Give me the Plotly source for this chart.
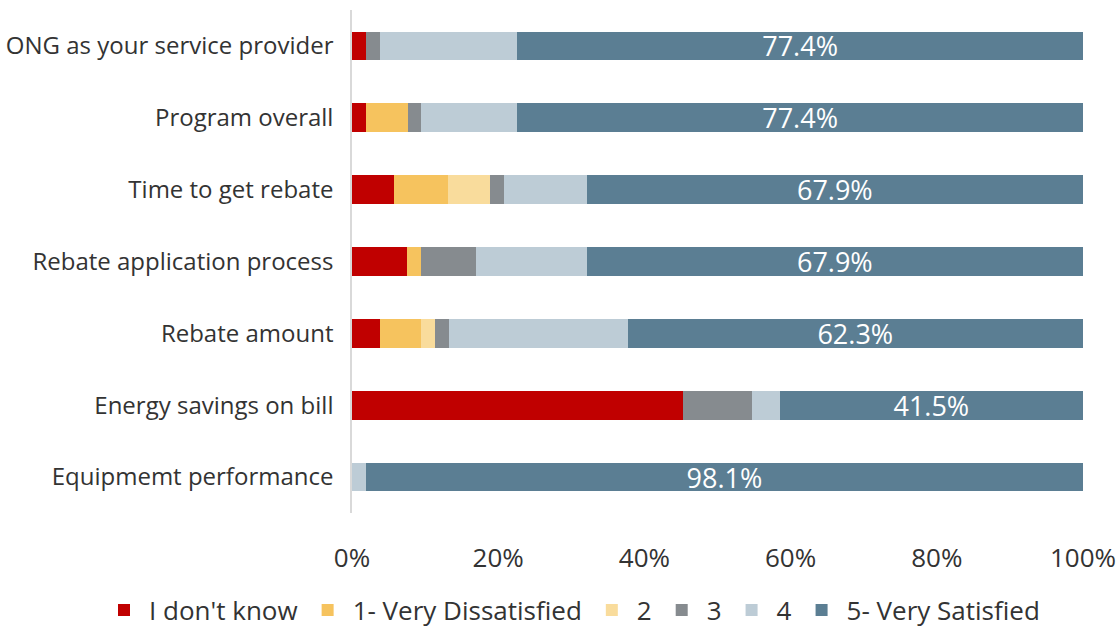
import plotly.graph_objects as go

# Survey items, listed top to bottom
categories = [
    "ONG as your service provider",
    "Program overall",
    "Time to get rebate",
    "Rebate application process",
    "Rebate amount",
    "Energy savings on bill",
    "Equipmemt performance",
]

# Share of respondents (%) per rating, same order as categories
dont_know = [1.9, 1.9, 5.7, 7.5, 3.8, 45.3, 0.0]
very_dissatisfied = [0.0, 5.7, 7.5, 1.9, 5.7, 0.0, 0.0]
rating_2 = [0.0, 0.0, 5.7, 0.0, 1.9, 0.0, 0.0]
rating_3 = [1.9, 1.9, 1.9, 7.5, 1.9, 9.4, 0.0]
rating_4 = [18.8, 13.1, 11.3, 15.2, 24.4, 3.8, 1.9]
very_satisfied = [77.4, 77.4, 67.9, 67.9, 62.3, 41.5, 98.1]

x_ticks = [0, 20, 40, 60, 80, 100]
x_tick_labels = ["0%", "20%", "40%", "60%", "80%", "100%"]

series = [
    ("I don't know", dont_know, "#C00000"),
    ("1- Very Dissatisfied", very_dissatisfied, "#F6C35E"),
    ("2", rating_2, "#F9DC9C"),
    ("3", rating_3, "#868B8F"),
    ("4", rating_4, "#BDCCD6"),
    ("5- Very Satisfied", very_satisfied, "#5B7E93"),
]

FONT = "'Open Sans', sans-serif"
TEXT_COLOR = "#333333"

fig = go.Figure()
for name, vals, color in series:
    show_text = name.startswith("5-")
    fig.add_trace(go.Bar(
        y=categories,
        x=vals,
        name=name,
        orientation="h",
        marker=dict(color=color, line=dict(width=0)),
        text=[f"{v:.1f}%" for v in vals] if show_text else None,
        textposition="inside" if show_text else "none",
        insidetextanchor="middle",
        textangle=0,
        textfont=dict(color="white", size=27, family=FONT),
        hoverinfo="skip",
    ))

fig.update_layout(
    barmode="stack",
    bargap=0.6,
    width=1119,
    height=627,
    margin=dict(l=352, r=36, t=10, b=114, autoexpand=False),
    paper_bgcolor="white",
    plot_bgcolor="white",
    font=dict(family=FONT, color=TEXT_COLOR, size=24),
    uniformtext=dict(minsize=27, mode="show"),
    legend=dict(
        orientation="h",
        x=(99 - 352) / 731,
        xanchor="left",
        y=-(610 - 513) / 503,
        yanchor="middle",
        font=dict(size=26, color=TEXT_COLOR, family=FONT),
        traceorder="normal",
        itemwidth=40,
    ),
    xaxis=dict(
        range=[0, 100],
        tickvals=x_ticks,
        ticktext=x_tick_labels,
        showgrid=False,
        zeroline=False,
        showline=False,
        ticks="outside",
        ticklen=22,
        tickcolor="rgba(0,0,0,0)",
        tickfont=dict(size=26, color=TEXT_COLOR),
        fixedrange=True,
    ),
    yaxis=dict(
        autorange="reversed",
        showgrid=False,
        showline=True,
        linecolor="#D9D9D9",
        linewidth=1.5,
        ticks="outside",
        ticklen=12,
        tickcolor="rgba(0,0,0,0)",
        tickfont=dict(size=24, color=TEXT_COLOR),
        fixedrange=True,
    ),
)

fig.write_html("out.html")
